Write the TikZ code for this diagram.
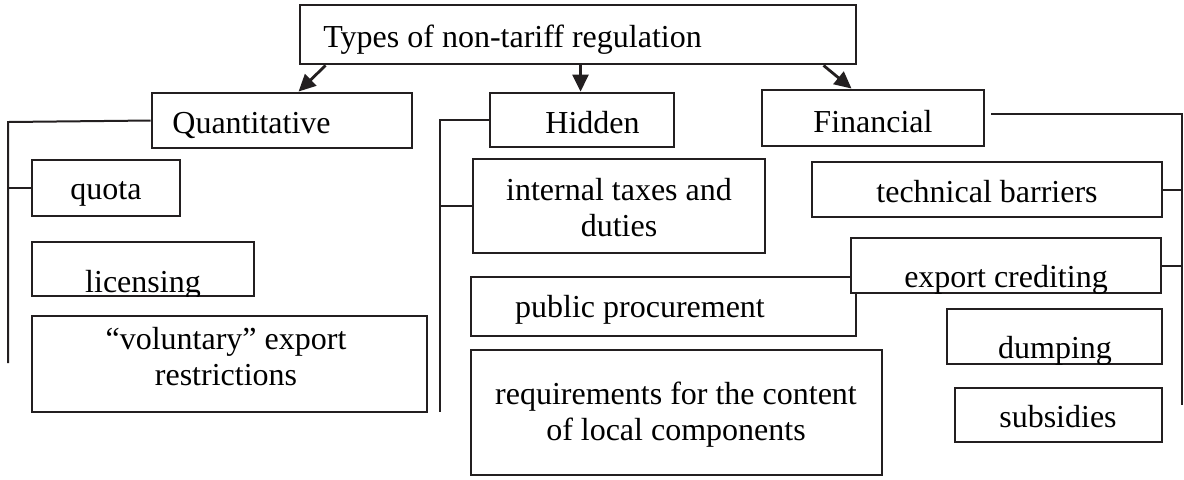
\documentclass[tikz,border=0pt]{standalone}
\usepackage{fontspec}
\setmainfont{Liberation Serif}
\usetikzlibrary{fit,arrows.meta}
\definecolor{ink}{RGB}{35,31,32}
\begin{document}
\begin{tikzpicture}[x=0.5pt,y=-0.5pt,
  box/.style={draw=ink,line width=1.45pt,inner sep=0pt,fill=white},
  txt/.style={font=\fontsize{16pt}{18pt}\selectfont,inner sep=0pt,text=black,align=center},
  link/.style={draw=ink,line width=1pt},
  arr/.style={draw=ink,line width=1.4pt,-{Triangle[length=8.5pt,width=8pt]}}]

\useasboundingbox (0,0) rectangle (1184,479);

% ---- boxes ----
\node[box,fit={(300,5) (856,64)}] (root) {};
\node[box,fit={(152,93) (412,148)}] (quant) {};
\node[box,fit={(490,93) (674,147)}] (hidden) {};
\node[box,fit={(762,90) (984,146)}] (fin) {};

\node[box,fit={(32,160) (180,216)}] (quota) {};
\node[box,fit={(32,242) (254,296)}] (lic) {};
\node[box,fit={(32,316) (427,412)}] (vol) {};

\node[box,fit={(473,159) (765,253)}] (tax) {};
\node[box,fit={(471,277) (856,336)}] (proc) {};
\node[box,fit={(471,350) (882,475)}] (local) {};

\node[box,fit={(812,162) (1162,217)}] (tech) {};
\node[box,fit={(851,238) (1161,293)}] (cred) {};
\node[box,fit={(947,309) (1162,364)}] (dump) {};
\node[box,fit={(955,388) (1162,442)}] (subs) {};

% ---- labels (base = baseline of the last line) ----
\node[txt,anchor=base west] (t-root) at (323,47) {Types of non-tariff regulation};
\node[txt,anchor=base west] (t-quant) at (172,133) {Quantitative};
\node[txt,anchor=base west] (t-hidden) at (545,133) {Hidden};
\node[txt,anchor=base] (t-fin) at (873,132) {Financial};

\node[txt,anchor=base] (t-quota) at (106,199) {quota};
\begin{scope}
  \clip (32,242) rectangle (254,296);
  \node[txt,anchor=base] (t-lic) at (143,292) {licensing};
\end{scope}
\node[txt,anchor=base] (t-vol) at (226,385) {“voluntary” export\\restrictions};

\node[txt,anchor=base] (t-tax) at (619,236) {internal taxes and\\duties};
\node[txt,anchor=base] (t-proc) at (640,317) {public procurement};
\node[txt,anchor=base] (t-local) at (676,440) {requirements for the content\\of local components};

\node[txt,anchor=base] (t-tech) at (987,202) {technical barriers};
\begin{scope}
  \clip (851,238) rectangle (1161,293);
  \node[txt,anchor=base] (t-cred) at (1006,287) {export crediting};
\end{scope}
\begin{scope}
  \clip (947,309) rectangle (1162,364);
  \node[txt,anchor=base] (t-dump) at (1055,358) {dumping};
\end{scope}
\node[txt,anchor=base] (t-subs) at (1058,427) {subsidies};

% ---- arrows from the root ----
\draw[arr] ([shift={(27,0)}]root.south west) -- ([shift={(148,0)}]quant.north west);
\draw[arr] ([shift={(282,0)}]root.south west) -- ([shift={(92,0)}]hidden.north west);
\draw[arr] ([shift={(525,0)}]root.south west) -- ([shift={(91,0)}]fin.north west);

% ---- brackets ----
\coordinate (qtop) at (8,122);
\coordinate (qbot) at (8,363);
\draw[link] (quant.west) -- (qtop) -- (qbot);
\draw[link] (quota.west) -- (quota.west -| qtop);

\coordinate (htop) at (440,120);
\coordinate (hbot) at (440,412);
\draw[link] (hidden.west) -- (htop) -- (hbot);
\draw[link] (tax.west) -- (tax.west -| htop);

\coordinate (fstart) at (991,114);
\coordinate (ftop) at (1182,114);
\coordinate (fbot) at (1182,405);
\draw[link] (fstart) -- (ftop) -- (fbot);
\draw[link] (tech.east) -- (tech.east -| ftop);
\draw[link] (cred.east) -- (cred.east -| ftop);

\end{tikzpicture}
\end{document}
